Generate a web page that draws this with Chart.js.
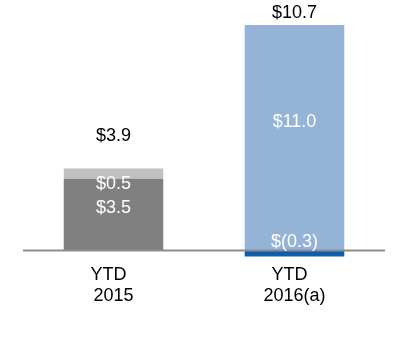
<!DOCTYPE html>
<html>
<head>
<meta charset="utf-8">
<script src="https://cdn.jsdelivr.net/npm/chart.js@4.4.1/dist/chart.umd.min.js"></script>
<style>
  html, body { margin: 0; padding: 0; background: #fff; }
  #wrap { width: 400px; height: 360px; }
</style>
</head>
<body>
<div id="wrap"><canvas id="grafico"></canvas></div>
<script>
// dados
const categorias = [['YTD  ', '2015'], ['YTD  ', '2016(a)']];
const baseValores = [3.5, 11.0];      // cinza escuro / azul claro
const extraValores = [0.5, 0];        // cinza claro
const ajusteValores = [0, -0.3];      // azul escuro (negativo)
const totais = ['$3.9', '$10.7'];
const rotulosBase = ['$3.5', '$11.0'];
const rotulosExtra = ['$0.5', null];
const rotulosAjuste = [null, '$(0.3)'];

// onde ficam os textos (em unidades do eixo y)
const posTotal = [5.58, 11.61];
const posBase = [2.08, 6.25];
const posExtra = [3.26, null];
const posAjuste = [null, 0.42];

const fonte = '"Liberation Sans", Arial, sans-serif';

const rotulos = {
  id: 'rotulos',
  afterDatasetsDraw(chart) {
    const { ctx, chartArea, scales: { x, y } } = chart;
    // linha do zero
    ctx.save();
    ctx.strokeStyle = '#8c8c8c';
    ctx.lineWidth = 2;
    const y0 = Math.round(y.getPixelForValue(0)) + 0.5;
    ctx.beginPath();
    ctx.moveTo(chartArea.left, y0);
    ctx.lineTo(chartArea.right, y0);
    ctx.stroke();

    ctx.font = '18px ' + fonte;
    ctx.textAlign = 'center';
    ctx.textBaseline = 'middle';
    categorias.forEach((c, i) => {
      const cx = x.getPixelForValue(i);
      ctx.fillStyle = '#000';
      ctx.fillText(totais[i], cx, y.getPixelForValue(posTotal[i]));
      ctx.fillStyle = '#fff';
      ctx.fillText(rotulosBase[i], cx, y.getPixelForValue(posBase[i]));
      if (rotulosExtra[i]) ctx.fillText(rotulosExtra[i], cx, y.getPixelForValue(posExtra[i]));
      if (rotulosAjuste[i]) ctx.fillText(rotulosAjuste[i], cx, y.getPixelForValue(posAjuste[i]));
    });
    ctx.restore();
  }
};

const ctx = document.getElementById('grafico').getContext('2d');

const grafico = new Chart(ctx, {
  type: 'bar',
  data: {
    labels: categorias,
    datasets: [
      {
        label: 'Base',
        data: baseValores,
        backgroundColor: ['#808080', '#95b3d7'],
        stack: 's',
      },
      {
        label: 'Extra',
        data: extraValores,
        backgroundColor: '#c0c0c0',
        stack: 's',
      },
      {
        label: 'Ajuste',
        data: ajusteValores,
        backgroundColor: '#0d5cad',
        stack: 's',
      },
    ],
  },
  options: {
    responsive: true,
    maintainAspectRatio: false,
    animation: false,
    layout: { padding: { left: 23, right: 15, top: 0, bottom: 48 } },
    plugins: {
      legend: { display: false },
      tooltip: { enabled: false },
    },
    datasets: {
      bar: { categoryPercentage: 1, barPercentage: 0.55 },
    },
    scales: {
      x: {
        stacked: true,
        grid: { display: false, drawTicks: false },
        border: { display: false },
        ticks: {
          color: '#000',
          padding: 6,
          font: { family: fonte, size: 18, lineHeight: 1.15 },
        },
      },
      y: {
        stacked: true,
        display: false,
        min: -0.4,
        max: 12.225,
      },
    },
  },
  plugins: [rotulos],
});
</script>
</body>
</html>
